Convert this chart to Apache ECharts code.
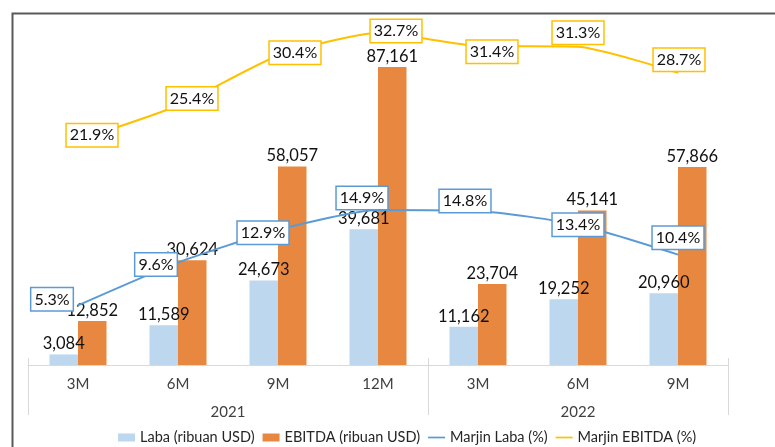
<!DOCTYPE html>
<html>
<head>
<meta charset="utf-8">
<title>Laba dan EBITDA</title>
<script src="https://cdn.jsdelivr.net/npm/echarts@6/dist/echarts.min.js"></script>
<style>
	html,body{margin:0;padding:0;background:#fff;}
	#chart{width:775px;height:447px;}
</style>
</head>
<body>
<div id="chart"></div>
<script>
/*数据*/
var periods = ['3M', '6M', '9M', '12M', '3M', '6M', '9M'];
var years = ['2021', '2022'];
var yearSpan = [4, 3];
var laba = [3084, 11589, 24673, 39681, 11162, 19252, 20960];
var ebitda = [12852, 30624, 58057, 87161, 23704, 45141, 57866];
var marjinLaba = [5.3, 9.6, 12.9, 14.9, 14.8, 13.4, 10.4];
var marjinEbitda = [21.9, 25.4, 30.4, 32.7, 31.4, 31.3, 28.7];

/*标签偏移 (px)*/
var labaLabelOffset = [[-26, -6], [-22, 2], [-15, 3], [-16, -12], [-13, -10], [0, 0], [0, -17]];
var ebitdaLabelOffset = [[14, -5], [14, -7], [17, -3], [18, -2], [14, 6], [0, -14], [1, -13]];

var fontName = 'Lato';
var lineIcon = 'path://M0,0H20V2H0Z';

/*年份的分隔线和位置*/
var yearTicks = [0];
var yearCenters = [];
for (var i = 0; i < yearSpan.length; i++) {
	yearCenters.push(yearTicks[i] + yearSpan[i] / 2);
	yearTicks.push(yearTicks[i] + yearSpan[i]);
}

function withOffsets(values, offsets) {
	var list = [];
	for (var i = 0; i < values.length; i++) {
		list.push({ value: values[i], label: { offset: offsets[i] } });
	}
	return list;
}

function marginLabel(color) {
	return {
		show: true,
		position: 'inside',
		formatter: function(p) { return p.value.toFixed(1) + '%'; },
		fontFamily: fontName,
		fontSize: 16,
		color: '#111',
		backgroundColor: '#fff',
		borderColor: color,
		borderWidth: 1.5,
		padding: [4, 3, 2, 3]
	};
}

function barLabel() {
	return {
		show: true,
		position: 'top',
		distance: 2,
		fontFamily: fontName,
		fontSize: 16.5,
		color: '#111',
		formatter: function(p) { return p.value.toLocaleString('en-US'); }
	};
}

var chart = echarts.init(document.getElementById('chart'));
var option = {
	animation: false,
	textStyle: { fontFamily: fontName },
	graphic: [{
		type: 'rect',
		left: 10,
		top: 11,
		shape: { width: 900, height: 600 },
		style: { fill: 'none', stroke: '#595959', lineWidth: 2 },
		z: -1
	}],
	legend: {
		top: 430,
		left: 118,
		padding: 0,
		itemWidth: 17,
		itemHeight: 8,
		itemGap: 8,
		textStyle: { fontFamily: fontName, fontSize: 14.5, color: '#262626' },
		data: [
			{ name: 'Laba (ribuan USD)', icon: 'rect' },
			{ name: 'EBITDA (ribuan USD)', icon: 'rect' },
			{ name: 'Marjin Laba (%)', icon: lineIcon, itemStyle: { color: '#5b9bd5' } },
			{ name: 'Marjin EBITDA (%)', icon: lineIcon, itemStyle: { color: '#ffc000' } }
		]
	},
	grid: {
		left: 28,
		right: 47,
		top: 23,
		bottom: 82
	},
	xAxis: [{
		type: 'category',
		data: periods,
		axisLine: { lineStyle: { color: '#d9d9d9', width: 1 } },
		axisTick: { show: false },
		axisLabel: { color: '#404040', fontSize: 15, margin: 12 }
	}, {
		// 第二层：年份
		type: 'value',
		position: 'bottom',
		min: 0,
		max: periods.length,
		axisLine: { show: false },
		splitLine: { show: false },
		axisTick: {
			show: true,
			customValues: yearTicks,
			length: 57,
			lineStyle: { color: '#d9d9d9' }
		},
		axisLabel: {
			customValues: yearCenters,
			margin: 40,
			color: '#404040',
			fontSize: 15,
			formatter: function(value) {
				var idx = yearCenters.indexOf(value);
				return idx >= 0 ? years[idx] : '';
			}
		}
	}],
	yAxis: [{
		type: 'value',
		min: 0,
		max: 100000,
		show: false
	}, {
		type: 'value',
		min: -0.7,
		max: 33.7,
		show: false
	}],
	series: [{
		name: 'Laba (ribuan USD)',
		type: 'bar',
		barWidth: 28.5,
		barGap: '0%',
		itemStyle: { color: '#bdd7ee' },
		label: barLabel(),
		data: laba
	}, {
		name: 'EBITDA (ribuan USD)',
		type: 'bar',
		barWidth: 28.5,
		barGap: '0%',
		itemStyle: { color: '#e8873f' },
		label: barLabel(),
		data: ebitda
	}, {
		name: 'Marjin Laba (%)',
		type: 'line',
		yAxisIndex: 1,
		smooth: 0.2,
		symbol: 'circle',
		symbolSize: 1,
		lineStyle: { color: '#5b9bd5', width: 2 },
		itemStyle: { color: '#5b9bd5' },
		label: marginLabel('#5b9bd5'),
		data: withOffsets(marjinLaba, labaLabelOffset)
	}, {
		name: 'Marjin EBITDA (%)',
		type: 'line',
		yAxisIndex: 1,
		smooth: 0.2,
		symbol: 'circle',
		symbolSize: 1,
		lineStyle: { color: '#ffc000', width: 2 },
		itemStyle: { color: '#ffc000' },
		label: marginLabel('#ffc000'),
		data: withOffsets(marjinEbitda, ebitdaLabelOffset)
	}]
};
chart.setOption(option);
</script>
</body>
</html>
